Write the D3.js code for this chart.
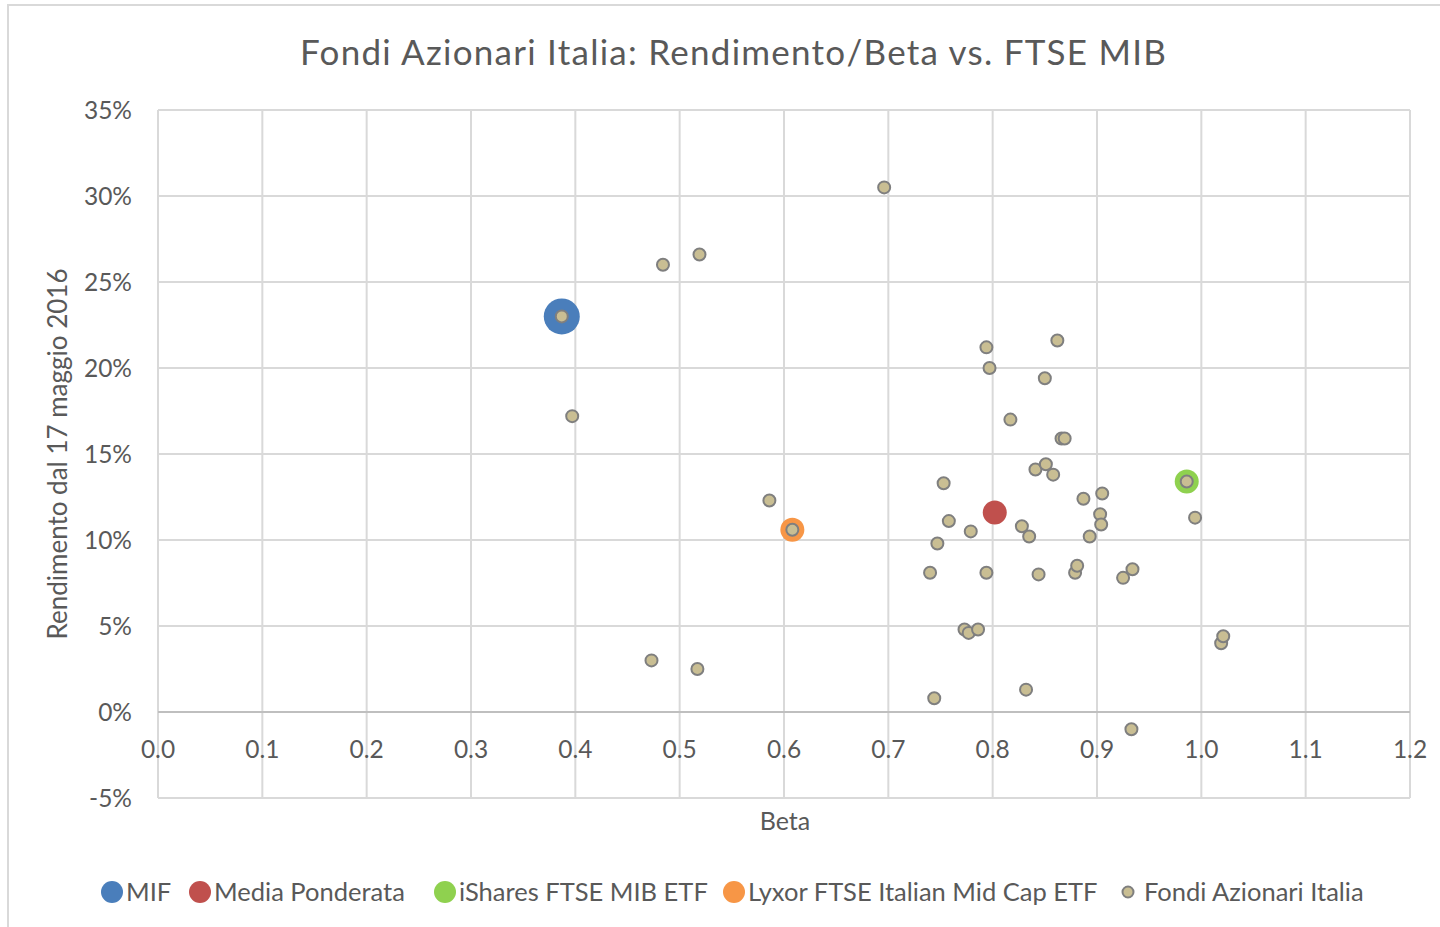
<!DOCTYPE html>
<html>
<head>
<meta charset="utf-8">
<script src="https://cdn.jsdelivr.net/npm/d3@7"></script>
<style>
  body { margin: 0; background: #fff; }
  text { font-family: Lato, "Open Sans", sans-serif; fill: #595959; }
</style>
</head>
<body>
<div id="chart"></div>
<script>
const W = 1440, H = 927;

// fondi azionari italia (beta, rendimento %)
const fundBeta = [0.696, 0.484, 0.519, 0.387, 0.397, 0.794, 0.862, 0.797, 0.850, 0.817,
  0.866, 0.869, 0.841, 0.851, 0.858, 0.753, 0.887, 0.905, 0.586, 0.608,
  0.986, 0.758, 0.779, 0.747, 0.828, 0.835, 0.903, 0.904, 0.893, 0.994,
  0.740, 0.794, 0.844, 0.879, 0.881, 0.925, 0.934, 0.773, 0.777, 0.786,
  1.019, 1.021, 0.473, 0.517, 0.744, 0.832, 0.933];
const fundRet = [30.5, 26.0, 26.6, 23.0, 17.2, 21.2, 21.6, 20.0, 19.4, 17.0,
  15.9, 15.9, 14.1, 14.4, 13.8, 13.3, 12.4, 12.7, 12.3, 10.6,
  13.4, 11.1, 10.5, 9.8, 10.8, 10.2, 11.5, 10.9, 10.2, 11.3,
  8.1, 8.1, 8.0, 8.1, 8.5, 7.8, 8.3, 4.8, 4.6, 4.8,
  4.0, 4.4, 3.0, 2.5, 0.8, 1.3, -1.0];

// serie evidenziate
const highlightNames = ["MIF", "Media Ponderata", "iShares FTSE MIB ETF", "Lyxor FTSE Italian Mid Cap ETF"];
const highlightBeta = [0.387, 0.802, 0.986, 0.608];
const highlightRet = [23.0, 11.6, 13.4, 10.6];
const highlightColors = ["#4a7ebb", "#c0504d", "#8fd14f", "#f79646"];
const highlightRadius = [18, 12, 12, 12];

const xTicks = [0.0, 0.1, 0.2, 0.3, 0.4, 0.5, 0.6, 0.7, 0.8, 0.9, 1.0, 1.1, 1.2];
const yTicks = [-5, 0, 5, 10, 15, 20, 25, 30, 35];

const svg = d3.select("#chart").append("svg")
  .attr("width", W).attr("height", H);

// cornice
svg.append("rect")
  .attr("x", 8).attr("y", 5).attr("width", W).attr("height", H)
  .attr("fill", "none").attr("stroke", "#d9d9d9").attr("stroke-width", 2);

const x = d3.scaleLinear().domain([0, 1.2]).range([158, 1410]);
const y = d3.scaleLinear().domain([-5, 35]).range([798, 110]);

// griglia
svg.append("g").selectAll("line").data(xTicks).enter().append("line")
  .attr("x1", d => x(d)).attr("x2", d => x(d))
  .attr("y1", y(35)).attr("y2", y(-5))
  .attr("stroke", "#d9d9d9").attr("stroke-width", 2);

svg.append("g").selectAll("line").data(yTicks).enter().append("line")
  .attr("x1", x(0)).attr("x2", x(1.2))
  .attr("y1", d => y(d)).attr("y2", d => y(d))
  .attr("stroke", d => d === 0 ? "#bfbfbf" : "#d9d9d9").attr("stroke-width", 2);

// etichette assi
svg.append("g").selectAll("text").data(yTicks).enter().append("text")
  .attr("x", 132).attr("y", d => y(d)).attr("dy", "0.35em")
  .attr("text-anchor", "end").attr("font-size", "24.5px")
  .text(d => d + "%");

svg.append("g").selectAll("text").data(xTicks).enter().append("text")
  .attr("x", d => x(d)).attr("y", y(0) + 46)
  .attr("text-anchor", "middle").attr("font-size", "24.5px")
  .text(d => d3.format(".1f")(d));

svg.append("text")
  .attr("x", 733).attr("y", 65)
  .attr("text-anchor", "middle").attr("font-size", "35px")
  .attr("textLength", 866).attr("lengthAdjust", "spacing")
  .text("Fondi Azionari Italia: Rendimento/Beta  vs. FTSE MIB");

svg.append("text")
  .attr("x", 785).attr("y", 830)
  .attr("text-anchor", "middle").attr("font-size", "25px")
  .text("Beta");

svg.append("text")
  .attr("transform", `translate(67, ${(y(35) + y(-5)) / 2}) rotate(-90)`)
  .attr("text-anchor", "middle").attr("font-size", "26px")
  .text("Rendimento dal 17 maggio 2016");

// punti evidenziati (sotto)
svg.append("g").selectAll("circle").data(highlightNames).enter().append("circle")
  .attr("cx", (d, i) => x(highlightBeta[i]))
  .attr("cy", (d, i) => y(highlightRet[i]))
  .attr("r", (d, i) => highlightRadius[i])
  .attr("fill", (d, i) => highlightColors[i]);

// fondi
svg.append("g").selectAll("circle").data(fundBeta).enter().append("circle")
  .attr("cx", d => x(d))
  .attr("cy", (d, i) => y(fundRet[i]))
  .attr("r", 6)
  .attr("fill", "#c9be93")
  .attr("stroke", "#7f7f7f").attr("stroke-width", 2);

// legenda
const legendItems = [
  { name: highlightNames[0], color: highlightColors[0], cx: 112, r: 11 },
  { name: highlightNames[1], color: highlightColors[1], cx: 200, r: 11 },
  { name: highlightNames[2], color: highlightColors[2], cx: 445, r: 11 },
  { name: highlightNames[3], color: highlightColors[3], cx: 734, r: 11 },
  { name: "Fondi Azionari Italia", color: "#c9be93", cx: 1128, r: 5.5, stroke: "#7f7f7f" }
];
const leg = svg.append("g").selectAll("g").data(legendItems).enter().append("g");
leg.append("circle")
  .attr("cx", d => d.cx).attr("cy", 892).attr("r", d => d.r)
  .attr("fill", d => d.color)
  .attr("stroke", d => d.stroke || "none").attr("stroke-width", 2);
leg.append("text")
  .attr("x", d => d.cx + (d.r > 6 ? 14 : 16)).attr("y", 892).attr("dy", "0.35em")
  .attr("font-size", "25.5px")
  .text(d => d.name);
</script>
</body>
</html>
